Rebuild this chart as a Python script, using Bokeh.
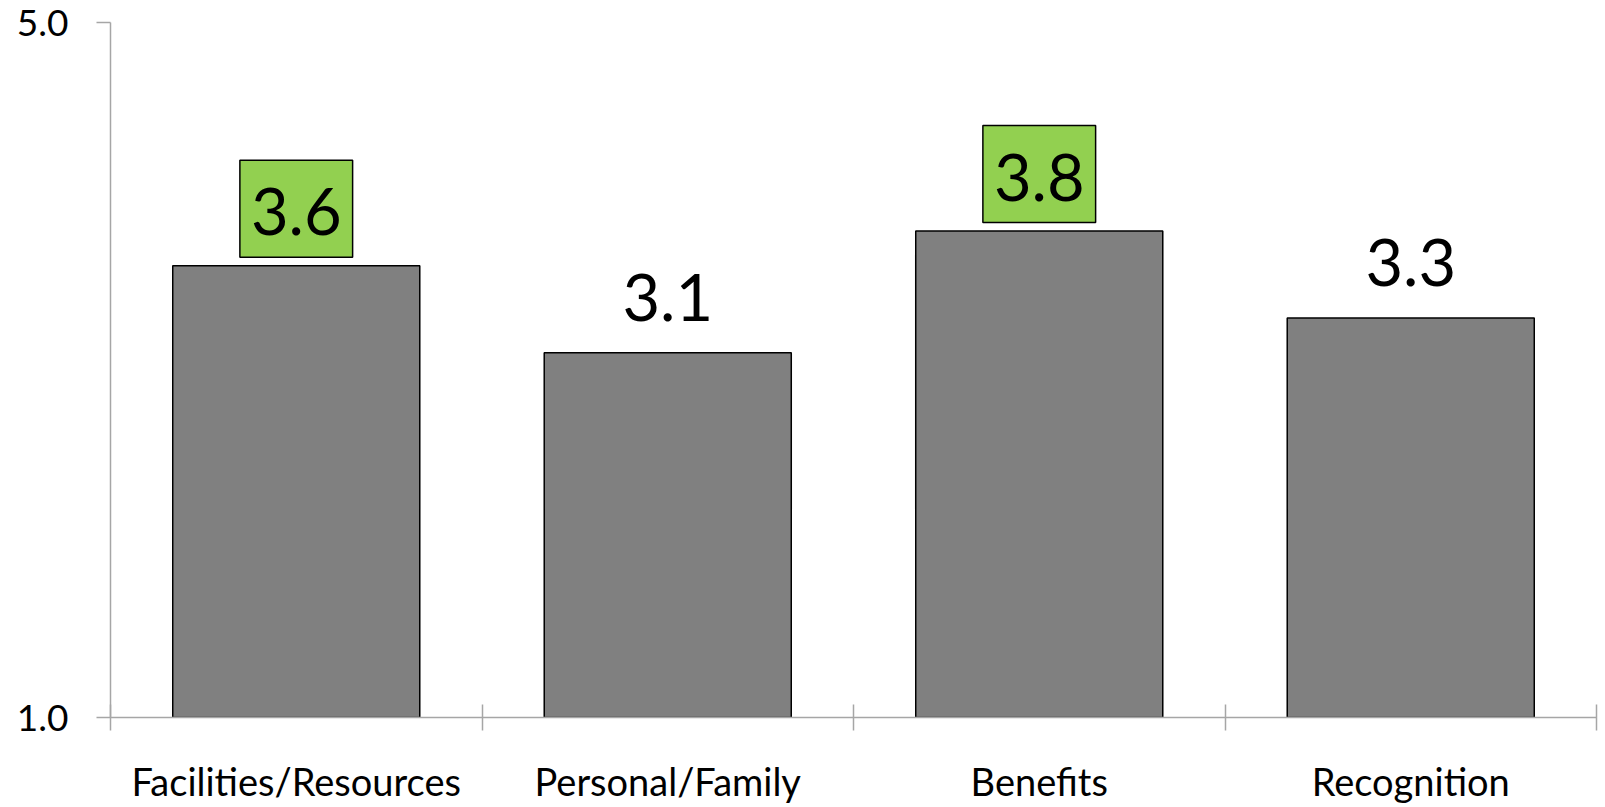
from bokeh.plotting import figure
from bokeh.models import ColumnDataSource, FixedTicker, Range1d, NumeralTickFormatter
from bokeh.core.properties import value
from bokeh.embed import file_html
from bokeh.resources import INLINE

# Mean scores per category (scale 1-5)
categories = ["Facilities/Resources", "Personal/Family", "Benefits", "Recognition"]
scores = [3.6, 3.1, 3.8, 3.3]
highlighted = [True, False, True, False]
y_ticks = [1.0, 5.0]

FONT = value("Lato")

centers = [i + 0.5 for i in range(len(categories))]
boundaries = list(range(len(categories) + 1))
labels = [f"{s:.1f}" for s in scores]

bars = ColumnDataSource(dict(x=centers, top=scores))
hi = ColumnDataSource(dict(
    x=[c for c, h in zip(centers, highlighted) if h],
    y=[s for s, h in zip(scores, highlighted) if h],
    label=[l for l, h in zip(labels, highlighted) if h],
))
lo = ColumnDataSource(dict(
    x=[c for c, h in zip(centers, highlighted) if not h],
    y=[s for s, h in zip(scores, highlighted) if not h],
    label=[l for l, h in zip(labels, highlighted) if not h],
))

p = figure(width=1605, height=807, output_backend="svg", toolbar_location=None,
           x_range=Range1d(0, len(categories)), y_range=Range1d(y_ticks[0], y_ticks[-1]),
           min_border_left=110, min_border_right=9, min_border_top=22, min_border_bottom=90)
p.outline_line_color = None
p.background_fill_color = "white"
p.border_fill_color = "white"

p.vbar(x="x", top="top", bottom=y_ticks[0], width=0.665, source=bars,
       fill_color="#808080", line_color="black", line_width=1.5)

p.text(x="x", y="y", text="label", source=lo, text_align="center",
       text_baseline="alphabetic", y_offset=-55, text_font=FONT,
       text_font_size="65px", text_color="black")
p.text(x="x", y="y", text="label", source=hi, text_align="center",
       text_baseline="alphabetic", y_offset=-57, text_font=FONT,
       text_font_size="65px", text_color="black",
       background_fill_color="#92D050", border_line_color="black",
       border_line_width=1.5, padding=dict(left=11, right=11, top=28, bottom=22))

# y axis: only the scale ends are marked
yax = p.yaxis[0]
yax.ticker = FixedTicker(ticks=y_ticks)
yax.formatter = NumeralTickFormatter(format="0.0")
yax.axis_line_color = "#a6a6a6"
yax.major_tick_line_color = "#a6a6a6"
yax.axis_line_width = 1.5
yax.major_tick_line_width = 1.5
yax.major_tick_in = 0
yax.major_tick_out = 14
yax.minor_tick_line_color = None
yax.major_label_standoff = 28
yax.major_label_text_font = "Lato"
yax.major_label_text_font_size = "37px"
yax.major_label_text_color = "black"

# x axis: names at centers, tick marks at category boundaries
xax = p.xaxis[0]
xax.ticker = FixedTicker(ticks=centers, minor_ticks=boundaries)
xax.major_label_overrides = {c: name for c, name in zip(centers, categories)}
xax.axis_line_color = "#a6a6a6"
xax.axis_line_width = 1.5
xax.major_tick_line_color = None
xax.minor_tick_line_color = "#a6a6a6"
xax.minor_tick_line_width = 1.5
xax.minor_tick_in = 13
xax.minor_tick_out = 13
xax.major_label_standoff = 27
xax.major_label_text_font = "Lato"
xax.major_label_text_font_size = "38px"
xax.major_label_text_color = "black"

p.xgrid.visible = False
p.ygrid.ticker = FixedTicker(ticks=[y_ticks[-1]])
p.ygrid.grid_line_color = "#d9d9d9"
p.ygrid.grid_line_width = 1.5

open("out.html", "w").write(file_html(p, INLINE))
